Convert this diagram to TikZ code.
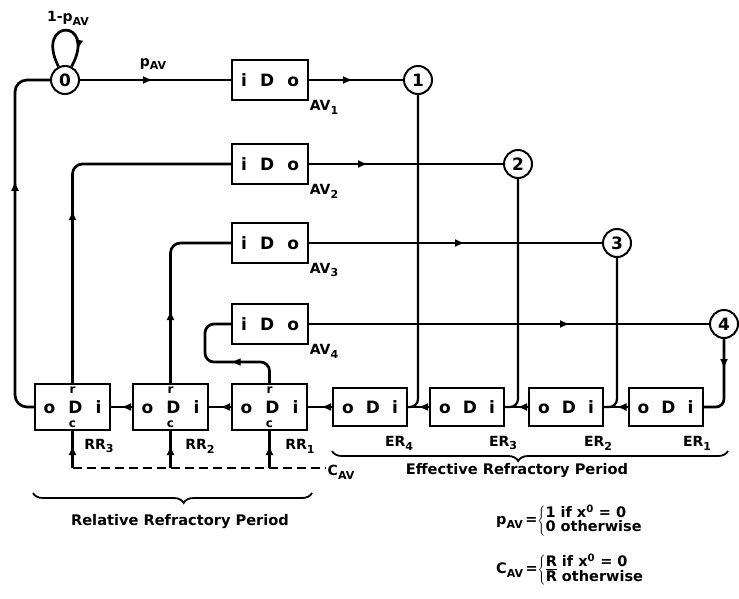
\documentclass[tikz,border=0pt]{standalone}
\usepackage{fontspec}
\setmainfont{DejaVu Sans}
\usetikzlibrary{arrows.meta,decorations.markings,decorations.pathreplacing}
\newcommand\lowsub[1]{\raisebox{-0.5ex}{\fontsize{11}{12}\selectfont #1}}
\begin{document}
\begin{tikzpicture}[x=1pt,y=-1pt,
  wire/.style={line width=2.7pt},
  thinwire/.style={line width=2.2pt},
  midarrow/.style={postaction={decorate,decoration={markings,mark=at position #1 with {\arrow{Latex[length=10pt,width=8pt]}}}}},
  boxfont/.style={font=\fontsize{17}{19}\selectfont\bfseries},
  dbox/.style={draw,line width=2pt,minimum width=76pt,minimum height=40pt,inner sep=0pt,boxfont},
  rbox/.style={draw,line width=2pt,minimum width=75pt,minimum height=46pt,inner sep=0pt,boxfont},
  ebox/.style={draw,line width=2pt,minimum width=74pt,minimum height=38pt,inner sep=0pt,boxfont},
  state/.style={draw,circle,line width=2pt,minimum size=28pt,inner sep=0pt,boxfont},
  small/.style={inner sep=0pt,font=\fontsize{12}{13}\selectfont\bfseries},
  lab/.style={inner sep=0pt,font=\fontsize{14}{16}\selectfont\bfseries},
  big/.style={inner sep=0pt,font=\fontsize{14.6}{17}\selectfont\bfseries},
  eqn/.style={inner sep=0pt,font=\fontsize{14.5}{17}\selectfont\bfseries},
  bracestyle/.style={line width=1.8pt,decorate},
]
\useasboundingbox (0,0) rectangle (739,598);

% state circles
\node[state] (c0) at (65,80) {0};
\node[state] (c1) at (418,80) {1};
\node[state] (c2) at (518,164) {2};
\node[state] (c3) at (617,243) {3};
\node[state] (c4) at (724,324) {4};

% AV delay boxes
\foreach \k/\y in {1/80,2/164,3/243,4/324} {
  \node[dbox] (av\k) at (270,\y) {\makebox[58pt]{i\hfill D\hfill o}};
  \node[lab] (avl\k) at (324,\y+27) {AV\lowsub{\k}};
}

% RR boxes
\foreach \k/\x/\lx in {3/72.5/99,2/170.5/200,1/269.5/300} {
  \node[rbox] (rr\k) at (\x,407) {\makebox[58pt]{o\hfill D\hfill i}};
  \node[small] (rrr\k) at (\x,390) {r};
  \node[small] (rrc\k) at (\x,424) {c};
  \node[lab] (rrl\k) at (\lx,446) {RR\lowsub{\k}};
}

% ER boxes
\foreach \k/\x/\lx in {4/370/399,3/467/503,2/566/598,1/665.5/697} {
  \node[ebox] (er\k) at (\x,407) {\makebox[56pt]{o\hfill D\hfill i}};
  \node[lab] (erl\k) at (\lx,443) {ER\lowsub{\k}};
}

% labels at top
\node[lab] (lloop) at (68,18) {1-p\lowsub{AV}};
\node[lab] (lpav) at (153,64) {p\lowsub{AV}};

% self loop
\draw[wire,midarrow=0.8] (c0.116) .. controls (34,18) and (98,18) .. (c0.64);

% top row
\draw[wire,midarrow=73pt] (c0.east) -- (av1.west);
\draw[wire,midarrow=44pt] (av1.east) -- (c1.west);
\draw[wire,midarrow=59pt] (av2.east) -- (c2.west);
\draw[wire,midarrow=156pt] (av3.east) -- (c3.west);
\draw[wire,midarrow=261pt] (av4.east) -- (c4.west);

% feedback to state 0
\draw[wire,rounded corners=12pt,midarrow=240pt] (rr3.west) -| ([xshift=-35pt]c0.west) -- (c0.west);

% RR outputs to AV inputs
\draw[wire,rounded corners=10pt,midarrow=173pt] (rr3.north) |- (av2.west);
\draw[wire,rounded corners=10pt,midarrow=73pt] (rr2.north) |- (av3.west);
\coordinate (k4) at (205,362);
\draw[wire,rounded corners=9pt,midarrow=56pt] (rr1.north) |- (k4) |- (av4.west);

% circles down to ER chain
\draw[thinwire,rounded corners=8pt] (c1.south) |- (er4.east);
\draw[thinwire,rounded corners=8pt] (c2.south) |- (er3.east);
\draw[thinwire,rounded corners=8pt] (c3.south) |- (er2.east);
\draw[wire,rounded corners=8pt,midarrow=30pt] (c4.south) |- (er1.east);

% chain links
\foreach \a/\b in {rr2/rr3,rr1/rr2,er4/rr1,er3/er4,er2/er3,er1/er2}
  \draw[wire,midarrow=11pt] (\a.west) -- (\b.east);

% C_AV
\coordinate (cav) at (326,468);
\draw[wire,dash pattern=on 9pt off 5pt] (rr3.south |- cav) -- (cav);
\foreach \k in {3,2,1}
  \draw[wire,midarrow=23pt] (rr\k.south |- cav) -- (rr\k.south);
\node[lab] (cavl) at (341,472) {C\lowsub{AV}};

% braces
\coordinate (eb1) at (332,451);
\coordinate (eb2) at (728,451);
\draw[bracestyle,decoration={brace,mirror,amplitude=10pt,aspect=0.47}] (eb1) -- (eb2);
\node[big] (erp) at (517,471) {Effective Refractory Period};
\coordinate (rb1) at (33,493);
\coordinate (rb2) at (312,493);
\draw[bracestyle,decoration={brace,mirror,amplitude=10pt,aspect=0.54}] (rb1) -- (rb2);
\node[big] (rrp) at (180,522) {Relative Refractory Period};

% equations
\node[eqn,anchor=west] (eqp) at (496,521) {p\lowsub{AV}\,=\,$\!\left\{\vcenter{\hbox{\begin{tabular}{@{}l@{}}1 if x\textsuperscript{0} = 0\\[-3pt] 0 otherwise\end{tabular}}}\right.$};
\node[eqn,anchor=west] (eqc) at (496,570) {C\lowsub{AV}\,=\,$\!\left\{\vcenter{\hbox{\begin{tabular}{@{}l@{}}R if x\textsuperscript{0} = 0\\[-3pt] $\overline{\hbox{R}}$ otherwise\end{tabular}}}\right.$};
\end{tikzpicture}
\end{document}
